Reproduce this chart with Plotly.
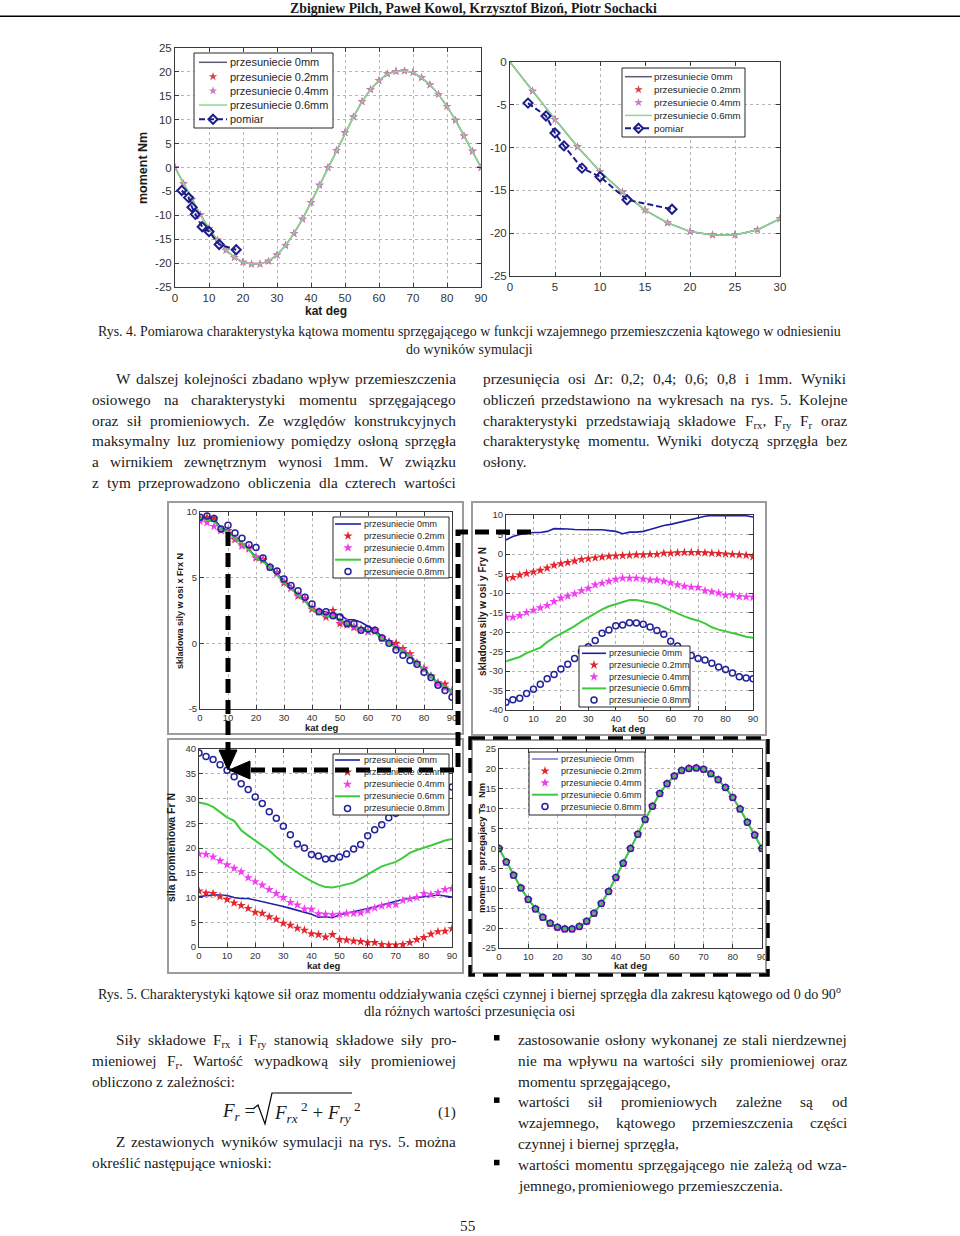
import re
import plotly.graph_objects as go

# ---------------------------------------------------------------- data
angles = [0, 2.5, 5, 7.5, 10, 12.5, 15, 17.5, 20, 22.5, 25, 27.5, 30, 32.5, 35, 37.5,
          40, 42.5, 45, 47.5, 50, 52.5, 55, 57.5, 60, 62.5, 65, 67.5, 70, 72.5, 75,
          77.5, 80, 82.5, 85, 87.5, 90]

# coupling torque (simulation, identical for all shifts) [Nm]
moment_sim = [0, -3.4, -6.7, -9.9, -12.8, -15.2, -17.3, -18.8, -19.8, -20.2, -20.2, -19.6,
              -18.3, -16.3, -13.8, -10.8, -7.3, -3.7, 0, 3.6, 7.3, 10.6, 13.8, 16.3, 18.2,
              19.6, 20.1, 20.2, 19.9, 18.8, 17.3, 15.3, 12.8, 9.9, 6.6, 3.4, 0]

# measured torque
pomiar_angle = [2, 4, 5, 6, 8, 10, 13, 18]
pomiar_moment = [-4.8, -6.3, -8.3, -9.8, -12.4, -13.4, -16.1, -17.2]

# force component Frx [N]
frx_00 = [9.6, 9.5, 9.5, 8.8, 8.6, 8.0, 7.6, 7.1, 6.6, 6.4, 5.8, 5.3, 4.8, 4.3, 3.7, 3.3, 2.6,
          2.4, 2.4, 2.2, 2.2, 1.8, 1.8, 1.6, 1.3, 1.0, 0.5, 0.1, -0.2, -0.5, -0.9, -1.5, -2.0,
          -2.5, -3.0, -3.3, -3.6]
frx_02 = [9.5, 9.6, 9.5, 8.6, 8.6, 7.9, 7.5, 7.2, 6.5, 6.4, 5.8, 5.4, 4.6, 4.2, 3.6, 3.4, 2.6,
          2.4, 2.0, 2.5, 1.5, 1.4, 1.2, 1.1, 0.9, 1.0, 0.4, 0.1, 0.0, -0.4, -0.8, -1.5, -1.9,
          -2.5, -3.0, -3.1, -3.6]
frx_04 = [9.3, 9.2, 8.9, 8.6, 8.4, 8.0, 7.4, 7.3, 6.6, 6.3, 5.8, 5.3, 4.7, 4.2, 3.7, 3.3, 2.7,
          2.4, 2.2, 2.2, 1.7, 1.6, 1.3, 1.0, 0.9, 0.9, 0.4, 0.1, -0.3, -0.6, -1.0, -1.5, -2.0,
          -2.5, -3.1, -3.4, -3.7]
frx_06 = [9.5, 9.4, 9.3, 8.7, 8.5, 8.0, 7.6, 7.1, 6.5, 6.2, 5.8, 5.2, 4.6, 4.2, 3.7, 3.2, 2.6,
          2.3, 2.1, 2.0, 1.8, 1.5, 1.3, 1.1, 1.0, 0.8, 0.4, 0.0, -0.3, -0.6, -1.0, -1.5, -2.0,
          -2.5, -3.0, -3.3, -3.7]
frx_08 = [9.6, 9.7, 9.5, 8.7, 9.0, 8.4, 8.0, 7.5, 7.3, 6.5, 5.8, 5.5, 4.9, 4.4, 4.0, 3.5, 3.0,
          2.4, 2.4, 2.1, 2.0, 1.5, 1.5, 1.0, 1.1, 1.0, 0.4, 0.0, -0.5, -0.9, -1.3, -1.6, -2.2,
          -2.6, -3.2, -3.6, -4.1]

# force component Fry [N]
fry_00 = [3.6, 4.5, 5.0, 5.2, 5.5, 5.5, 5.8, 6.5, 6.5, 6.4, 6.3, 6.2, 6.2, 6.2, 6.2, 6.0, 5.8,
          5.2, 5.6, 5.6, 5.8, 6.3, 6.8, 7.3, 7.6, 8.0, 8.5, 8.9, 9.2, 9.7, 9.9, 9.9, 9.8, 9.9,
          9.8, 9.8, 9.5]
fry_02 = [-6.2, -6.0, -5.4, -5.0, -4.6, -4.2, -3.6, -2.9, -2.5, -2.2, -1.8, -1.4, -1.2, -1.0,
          -0.8, -0.6, -0.5, -0.4, -0.3, -0.2, -0.2, -0.1, -0.1, 0.2, 0.2, 0.3, 0.4, 0.4, 0.4,
          0.3, 0.2, 0.1, 0.0, -0.1, -0.2, -0.3, -0.7]
fry_04 = [-16.2, -16.2, -15.8, -15.0, -14.4, -13.8, -13.2, -12.2, -11.3, -10.8, -10.2, -9.4,
          -8.8, -7.9, -7.5, -7.0, -6.5, -6.2, -6.2, -6.2, -6.4, -6.7, -6.7, -7.0, -7.4, -7.9,
          -8.3, -8.5, -8.6, -9.4, -9.7, -10.0, -10.6, -10.5, -10.9, -11.0, -11.1]
fry_06 = [-27.5, -27.0, -26.4, -25.4, -24.6, -24.0, -22.6, -21.4, -20.5, -19.6, -18.5, -17.3,
          -16.2, -15.2, -14.2, -13.4, -12.8, -12.2, -11.8, -11.8, -12.1, -12.5, -12.9, -13.7,
          -14.5, -15.3, -16.0, -16.6, -17.1, -17.8, -18.8, -19.4, -19.8, -20.3, -20.7, -21.2,
          -21.5]
fry_08 = [-38.0, -37.4, -37.0, -35.8, -34.7, -33.4, -32.0, -30.9, -29.5, -28.3, -26.8, -25.0,
          -23.8, -22.2, -20.3, -19.5, -18.4, -18.2, -17.6, -17.7, -18.0, -18.7, -19.6, -20.6,
          -22.4, -23.6, -24.8, -26.0, -26.8, -27.2, -28.0, -29.0, -29.6, -30.5, -31.5, -31.8,
          -32.0]

# radial force Fr [N]
fr_00 = [10.2, 10.4, 10.5, 10.5, 10.4, 10.0, 9.8, 9.8, 9.5, 9.1, 8.8, 8.5, 8.2, 7.8, 7.4, 7.0,
         6.6, 6.0, 6.1, 5.9, 6.5, 6.8, 7.1, 7.5, 7.8, 8.1, 8.5, 8.9, 9.3, 9.6, 9.8, 10.0, 10.2,
         10.4, 10.5, 10.3, 10.1]
fr_02 = [11.3, 10.9, 10.8, 10.2, 9.6, 8.9, 8.4, 7.8, 7.0, 6.8, 6.1, 5.6, 4.8, 4.4, 3.8, 3.4,
         2.7, 2.5, 2.0, 2.5, 1.5, 1.4, 1.2, 1.1, 0.9, 0.9, 0.5, 0.4, 0.4, 0.5, 0.9, 1.5, 1.9,
         2.6, 3.1, 3.2, 3.7]
fr_04 = [18.8, 18.7, 18.2, 17.4, 16.6, 15.9, 15.2, 14.0, 13.2, 12.5, 11.6, 10.8, 10.0, 9.0,
         8.5, 7.7, 7.6, 6.7, 6.6, 6.5, 6.6, 6.8, 6.8, 6.9, 7.4, 7.9, 8.3, 8.5, 8.6, 9.4, 9.7,
         10.0, 10.8, 10.6, 11.0, 11.6, 11.8]
fr_06 = [29.2, 28.9, 28.3, 27.3, 26.2, 25.5, 23.6, 22.5, 21.5, 20.5, 19.5, 18.2, 17.0, 16.0,
         15.0, 14.1, 13.3, 12.6, 12.1, 12.0, 12.3, 12.6, 13.0, 13.8, 14.7, 15.5, 16.3, 16.8,
         17.2, 18.0, 19.0, 19.6, 20.0, 20.5, 21.0, 21.5, 21.8]
fr_08 = [39.2, 38.5, 37.9, 36.8, 35.7, 34.4, 33.0, 31.8, 30.3, 29.0, 27.3, 26.0, 24.4, 22.7,
         20.8, 20.0, 18.7, 18.4, 17.8, 17.9, 18.2, 18.8, 19.8, 20.7, 22.5, 23.7, 24.7, 26.1,
         27.0, 27.5, 28.2, 29.2, 29.9, 30.8, 31.7, 32.0, 32.3]

labels_fig4 = ["przesuniecie 0mm", "przesuniecie 0.2mm", "przesuniecie 0.4mm",
               "przesuniecie 0.6mm", "pomiar"]
labels_fig5 = ["przesuniecie 0mm", "przesuniecie 0.2mm", "przesuniecie 0.4mm",
               "przesuniecie 0.6mm", "przesuniecie 0.8mm"]

ticks_x90 = [0, 10, 20, 30, 40, 50, 60, 70, 80, 90]
ticks_x30 = [0, 5, 10, 15, 20, 25, 30]
ticks_m = [-25, -20, -15, -10, -5, 0, 5, 10, 15, 20, 25]
ticks_m_neg = [-25, -20, -15, -10, -5, 0]
ticks_frx = [-5, 0, 5, 10]
ticks_fry = [-40, -35, -30, -25, -20, -15, -10, -5, 0, 5, 10]
ticks_fr = [0, 5, 10, 15, 20, 25, 30, 35, 40]

# ---------------------------------------------------------------- texts
header = "Zbigniew Pilch, Paweł Kowol, Krzysztof Bizoń, Piotr Sochacki"
caption4 = ["Rys. 4. Pomiarowa charakterystyka kątowa momentu sprzęgającego w funkcji wzajemnego przemieszczenia kątowego w odniesieniu",
            "do wyników symulacji"]
caption5 = ["Rys. 5. Charakterystyki kątowe sił oraz momentu oddziaływania części czynnej i biernej sprzęgła dla zakresu kątowego od 0 do 90<sup>o</sup>",
            "dla różnych wartości przesunięcia osi"]
text_top_left = [
    ("W dalszej kolejności zbadano wpływ przemieszczenia", True, True),
    ("osiowego na charakterystyki momentu sprzęgającego", False, True),
    ("oraz sił promieniowych. Ze względów konstrukcyjnych", False, True),
    ("maksymalny luz promieniowy pomiędzy osłoną sprzęgła", False, True),
    ("a wirnikiem zewnętrznym wynosi 1mm. W związku", False, True),
    ("z tym przeprowadzono obliczenia dla czterech wartości", False, True),
]
text_top_right = [
    ("przesunięcia osi Δr: 0,2; 0,4; 0,6; 0,8 i 1mm. Wyniki", False, True),
    ("obliczeń przedstawiono na wykresach na rys. 5. Kolejne", False, True),
    ("charakterystyki przedstawiają składowe F<sub>rx</sub>, F<sub>ry</sub> F<sub>r</sub> oraz", False, True),
    ("charakterystykę momentu. Wyniki dotyczą sprzęgła bez", False, True),
    ("osłony.", False, False),
]
text_bot_left_a = [
    ("Siły składowe F<sub>rx</sub> i F<sub>ry</sub> stanowią składowe siły pro-", True, True),
    ("mieniowej F<sub>r</sub>. Wartość wypadkową siły promieniowej", False, True),
    ("obliczono z zależności:", False, False),
]
text_bot_left_b = [
    ("Z zestawionych wyników symulacji na rys. 5. można", True, True),
    ("określić następujące wnioski:", False, False),
]
bullet_items = [
    [("zastosowanie osłony wykonanej ze stali nierdzewnej", True),
     ("nie ma wpływu na wartości siły promieniowej oraz", True),
     ("momentu sprzęgającego,", False)],
    [("wartości sił promieniowych zależne są od", True),
     ("wzajemnego, kątowego przemieszczenia części", True),
     ("czynnej i biernej sprzęgła,", False)],
    [("wartości momentu sprzęgającego nie zależą od wza-", True),
     ("jemnego, promieniowego przemieszczenia.", False)],
]

# ---------------------------------------------------------------- helpers
PW, PH = 960, 1236
TW = dict(zip("abcdefghijklmnopqrstuvwxyz",
              [444, 500, 444, 500, 444, 333, 500, 500, 278, 278, 500, 278, 778, 500, 500, 500,
               500, 333, 389, 278, 500, 500, 722, 500, 500, 444]))
TW.update(dict(zip("ABCDEFGHIJKLMNOPQRSTUVWXYZ",
                   [722, 667, 667, 722, 611, 556, 722, 722, 333, 389, 722, 611, 889, 722, 722,
                    556, 722, 667, 556, 611, 722, 722, 944, 722, 722, 611])))
TW.update({c: 500 for c in "0123456789"})
TW.update({' ': 250, '.': 250, ',': 250, ':': 278, ';': 278, '-': 333, '(': 333, ')': 333,
           'Δ': 612, 'ą': 444, 'ć': 444, 'ę': 444, 'ł': 278, 'ń': 500, 'ó': 500, 'ś': 389,
           'ź': 444, 'ż': 444, 'Ś': 556, 'Ż': 611, 'Ł': 611})


def text_units(s):
    total = 0.0
    for part in re.split(r'(<sub>.*?</sub>|<sup>.*?</sup>)', s):
        if not part:
            continue
        inner = re.sub(r'<.*?>', '', part)
        f = 0.7 if part.startswith('<su') else 1.0
        total += f * sum(TW.get(c, 500) for c in inner)
    return total / 1000.0


SERIF = "Liberation Serif"
SANS = "Liberation Sans"
BODY = 15.3
annotations = []
shapes = []


def ann(text, x, y, size, family=SANS, xanchor='left', yanchor='middle', color='#1a1a1a',
        angle=0):
    annotations.append(dict(text=text, x=x, y=y, xref='x7', yref='y7', xanchor=xanchor,
                            yanchor=yanchor, showarrow=False, textangle=angle, borderpad=0,
                            font=dict(family=family, size=size, color=color)))


def text_line(text, x0, x1, yc, justify, size=BODY):
    words = text.split(' ')
    widths = [text_units(w) * size for w in words]
    if justify and len(words) > 1:
        gap = (x1 - x0 - sum(widths)) / (len(words) - 1)
    else:
        gap = 0.25 * size
    x = x0
    for w, wd in zip(words, widths):
        ann(w, x, yc - 0.59 * size, size, family=SERIF, yanchor='top')
        x += wd + gap


def paragraph(lines, x0, x1, y0, step=20.8, indent=24):
    for i, (t, ind, just) in enumerate(lines):
        text_line(t, x0 + (indent if ind else 0), x1, y0 + i * step, just)


# ---------------------------------------------------------------- figure
fig = go.Figure()

charts = {
    1: dict(px=(175, 481), py=(48, 287), xr=[0, 90], yr=[-25, 25], xt=ticks_x90, yt=ticks_m, fs=11.5),
    2: dict(px=(510, 780), py=(62, 276), xr=[0, 30], yr=[-25, 0], xt=ticks_x30, yt=ticks_m_neg, fs=11.5),
    3: dict(px=(200, 452), py=(512, 709), xr=[0, 90], yr=[-5, 10], xt=ticks_x90, yt=ticks_frx, fs=9.5),
    4: dict(px=(506, 753), py=(515, 710), xr=[0, 90], yr=[-40, 10], xt=ticks_x90, yt=ticks_fry, fs=9.5),
    5: dict(px=(199, 452), py=(749, 947), xr=[0, 90], yr=[0, 40], xt=ticks_x90, yt=ticks_fr, fs=9.5),
    6: dict(px=(499, 762), py=(749, 948), xr=[0, 90], yr=[-25, 25], xt=ticks_x90, yt=ticks_m, fs=9.5),
}

layout = dict(width=PW, height=PH, margin=dict(l=0, r=0, t=0, b=0), paper_bgcolor='white',
              plot_bgcolor='rgba(0,0,0,0)', showlegend=False)

axis_common = dict(showline=True, linecolor='#3a3a3a', linewidth=1, mirror='ticks',
                   ticks='inside', ticklen=4, tickcolor='#3a3a3a', showgrid=True,
                   gridcolor='#b5b5b5', griddash='dot', gridwidth=1, zeroline=False,
                   automargin=False, fixedrange=True)

for n, c in charts.items():
    sx = '' if n == 1 else str(n)
    layout['xaxis' + sx] = dict(domain=[c['px'][0] / PW, c['px'][1] / PW], range=c['xr'],
                                tickvals=c['xt'], ticktext=[str(v) for v in c['xt']],
                                anchor='y' + sx,
                                tickfont=dict(family=SANS, size=c['fs'], color='#333'),
                                **axis_common)
    layout['yaxis' + sx] = dict(domain=[1 - c['py'][1] / PH, 1 - c['py'][0] / PH], range=c['yr'],
                                tickvals=c['yt'], ticktext=[str(v) for v in c['yt']],
                                anchor='x' + sx,
                                tickfont=dict(family=SANS, size=c['fs'], color='#333'),
                                **axis_common)

# pixel overlay used for page decoration, text and legends
layout['xaxis7'] = dict(domain=[0, 1], range=[0, PW], visible=False, fixedrange=True,
                        anchor='y7', automargin=False)
layout['yaxis7'] = dict(domain=[0, 1], range=[PH, 0], visible=False, fixedrange=True,
                        anchor='x7', automargin=False)

# ---- styles
STY4 = [
    dict(mode='lines', line=dict(color='#5c5c70', width=1.5)),
    dict(mode='markers', marker=dict(symbol='star', size=6.5, color='#d04646')),
    dict(mode='markers', marker=dict(symbol='star', size=6.5, color='#c77cc7')),
    dict(mode='lines', line=dict(color='#8fd68f', width=1.5)),
    dict(mode='lines+markers', line=dict(color='#1c1c8a', width=2, dash='6px,3px'),
         marker=dict(symbol='diamond-open', size=7, color='#1c1c8a', line=dict(width=2))),
]
STY5 = [
    dict(mode='lines', line=dict(color='#1f1fa6', width=1.6)),
    dict(mode='markers', marker=dict(symbol='star', size=7, color='#e3262e')),
    dict(mode='markers', marker=dict(symbol='star', size=7, color='#f23cf2')),
    dict(mode='lines', line=dict(color='#3dcb3d', width=2)),
    dict(mode='markers', marker=dict(symbol='circle-open', size=6, color='#22229a',
                                     line=dict(width=1.5))),
]
STY6 = [dict(STY5[0], line=dict(color='#7c7cd2', width=1.6))] + STY5[1:]


def add_series(n, xs, ys, style, name):
    sx = '' if n == 1 else str(n)
    fig.add_trace(go.Scatter(x=xs, y=ys, name=name, xaxis='x' + sx, yaxis='y' + sx,
                             hoverinfo='skip', **style))


# Fig. 4 left
for ys, st, nm in zip([moment_sim] * 4, STY4[:4], labels_fig4[:4]):
    add_series(1, angles, ys, st, nm)
add_series(1, pomiar_angle, pomiar_moment, STY4[4], labels_fig4[4])
# Fig. 4 right (0..30 deg zoom)
k30 = [i for i, a in enumerate(angles) if a <= 30]
for st, nm in zip(STY4[:4], labels_fig4[:4]):
    add_series(2, [angles[i] for i in k30], [moment_sim[i] for i in k30], st, nm)
add_series(2, pomiar_angle, pomiar_moment, STY4[4], labels_fig4[4])
# Fig. 5
for n, group, sty in [(3, [frx_00, frx_02, frx_04, frx_06, frx_08], STY5),
                      (4, [fry_00, fry_02, fry_04, fry_06, fry_08], STY5),
                      (5, [fr_00, fr_02, fr_04, fr_06, fr_08], STY5),
                      (6, [moment_sim] * 5, STY6)]:
    for ys, st, nm in zip(group, sty, labels_fig5):
        add_series(n, angles, ys, st, nm)


# ---- legends (drawn manually for compact MATLAB-like spacing)
def legend(box, first, step, samp, tx, labels, styles, fsize):
    x0, y0, x1, y1 = box
    shapes.append(dict(type='rect', xref='x7', yref='y7', x0=x0, y0=y0, x1=x1, y1=y1,
                       line=dict(color='#262626', width=1), fillcolor='white', layer='below'))
    for i, (lab, st) in enumerate(zip(labels, styles)):
        yc = first + i * step
        mid = (samp[0] + samp[1]) / 2
        if 'lines' in st['mode']:
            fig.add_trace(go.Scatter(x=[samp[0], samp[1]], y=[yc, yc], mode='lines',
                                     line=st['line'], xaxis='x7', yaxis='y7',
                                     hoverinfo='skip'))
        if 'markers' in st['mode']:
            fig.add_trace(go.Scatter(x=[mid], y=[yc], mode='markers', marker=st['marker'],
                                     xaxis='x7', yaxis='y7', hoverinfo='skip'))
        ann(lab, tx, yc, fsize, color='#262626')


legend((194, 53, 333, 128), 62.3, 14.25, (199, 227), 229, labels_fig4, STY4, 11)
legend((622, 68, 745, 137), 76.7, 12.9, (625, 652), 653, labels_fig4, STY4, 9.7)
legend((333, 517, 449, 578), 524.0, 11.9, (335, 361), 363, labels_fig5, STY5, 9)
legend((579, 646, 690, 707), 653.3, 11.7, (582, 606), 608, labels_fig5, STY5, 9)
legend((333, 754, 449, 815), 760.0, 12.1, (335, 360), 363, labels_fig5, STY5, 9)
legend((529, 752, 645, 815), 759.0, 11.9, (532, 558), 560, labels_fig5, STY6, 9)

# ---- axis titles
ann("<b>moment Nm</b>", 143, 168, 12.5, xanchor='center', angle=-90)
ann("<b>kat deg</b>", 326, 311, 12, xanchor='center')
ann("<b>skladowa sily w osi x Frx N</b>", 180, 611, 9, xanchor='center', angle=-90)
ann("<b>kat deg</b>", 321, 727, 9.5, xanchor='center')
ann("<b>skladowa sily w osi y Fry N</b>", 482, 612, 10, xanchor='center', angle=-90)
ann("<b>kat deg</b>", 628, 728, 9.5, xanchor='center')
ann("<b>sila promieniowa Fr N</b>", 171, 848, 10.5, xanchor='center', angle=-90)
ann("<b>kat deg</b>", 323, 965, 9.5, xanchor='center')
ann("<b>moment\u00a0 sprzegajacy Ts\u00a0 Nm</b>", 481, 848, 9.5, xanchor='center', angle=-90)
ann("<b>kat deg</b>", 630, 965, 9.5, xanchor='center')

# ---- frames of fig. 5 and dashed explanation arrows
GRAY = '#9c9c9c'
for (a, b, c, d) in [(168, 502, 463, 734), (472, 502, 766, 735), (168, 739, 463, 973),
                     (472, 740, 766, 973)]:
    shapes.append(dict(type='rect', xref='x7', yref='y7', x0=a, y0=b, x1=c, y1=d,
                       line=dict(color=GRAY, width=2), layer='above'))
shapes.append(dict(type='rect', xref='x7', yref='y7', x0=470, y0=738, x1=768, y1=975,
                   line=dict(color='black', width=3.5, dash='15px,8px'), layer='above'))
DASH = dict(color='black', width=5, dash='14px,7px')
shapes.append(dict(type='path', xref='x7', yref='y7', path='M 228,532 L 228,752',
                   line=DASH, layer='above'))
shapes.append(dict(type='path', xref='x7', yref='y7',
                   path='M 531,532 L 458,532 L 458,770 L 250,770', line=DASH, layer='above'))
shapes.append(dict(type='path', xref='x7', yref='y7', path='M 219,750 L 237,750 L 228,770 Z',
                   fillcolor='black', line=dict(color='black', width=1), layer='above'))
shapes.append(dict(type='path', xref='x7', yref='y7', path='M 250,761 L 250,779 L 229,770 Z',
                   fillcolor='black', line=dict(color='black', width=1), layer='above'))

# ---- page text
ann("<b>" + header + "</b>", 473, 0, 13.8, family=SERIF, xanchor='center', yanchor='top')
shapes.append(dict(type='line', xref='x7', yref='y7', x0=0, x1=PW, y0=16.2, y1=16.2,
                   line=dict(color='black', width=1.5), layer='above'))

csize = 744 / text_units(caption4[0])
ann(caption4[0], 469, 331, csize, family=SERIF, xanchor='center')
ann(caption4[1], 469, 349, csize, family=SERIF, xanchor='center')
csize5 = 744 / text_units(caption5[0])
ann(caption5[0], 469, 993, csize5, family=SERIF, xanchor='center')
ann(caption5[1], 469, 1011, csize5, family=SERIF, xanchor='center')

paragraph(text_top_left, 91, 455, 378)
paragraph(text_top_right, 482, 846, 378)
paragraph(text_bot_left_a, 91, 455, 1039)
paragraph(text_bot_left_b, 91, 455, 1141)

yb = 1039
for item in bullet_items:
    shapes.append(dict(type='rect', xref='x7', yref='y7', x0=494, x1=499.5, y0=yb - 4,
                       y1=yb + 1.5, fillcolor='black', line=dict(width=0), layer='above'))
    for t, just in item:
        text_line(t, 517, 846, yb, just)
        yb += 20.8

# formula (1)
ann("<i>F<sub>r</sub></i> =", 221, 1112, 19, family=SERIF, xanchor='left')
ann("<i>F<sub>rx</sub></i><sup> 2</sup> + <i>F<sub>ry</sub></i><sup> 2</sup>", 273, 1112, 19,
    family=SERIF, xanchor='left')
shapes.append(dict(type='path', xref='x7', yref='y7',
                   path='M 253,1109 L 258,1105 L 265,1124 L 272,1093 L 352,1093',
                   line=dict(color='black', width=1.2), layer='above'))
ann("(1)", 457, 1112, BODY, family=SERIF, xanchor='right')

ann("55", 468, 1235, BODY, family=SERIF, xanchor='center', yanchor='bottom')

layout['annotations'] = annotations
layout['shapes'] = shapes
fig.update_layout(**layout)

fig.write_html("out.html", config={'displayModeBar': False, 'staticPlot': True},
               post_script="document.body.style.margin='0px';document.body.style.overflow='hidden';")
